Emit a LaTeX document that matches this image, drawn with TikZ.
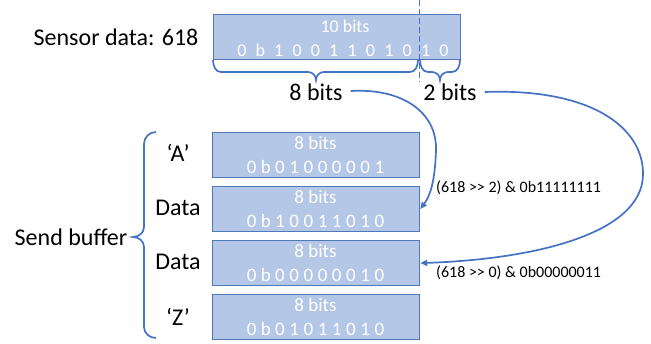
\documentclass[tikz,border=0pt]{standalone}
\usepackage{fontspec}
\setmainfont{Carlito}
\usetikzlibrary{arrows.meta,calc}
\definecolor{boxfill}{HTML}{B4C7E7}
\definecolor{boxline}{HTML}{5079BA}
\definecolor{accent}{HTML}{4472C4}
\begin{document}
\begin{tikzpicture}[x=1pt,y=-1pt,
  bitbox/.style={draw=boxline,line width=1.2pt,fill=boxfill,inner sep=0pt,anchor=north west},
  big/.style={font=\fontsize{24}{28}\selectfont,inner sep=0pt},
  lab/.style={font=\fontsize{16}{19}\selectfont,inner sep=0pt,anchor=west},
  wt/.style={text=white,inner sep=0pt,text height=0.7em,text depth=0pt},
  topt/.style={wt,font=\fontsize{18}{21}\selectfont},
  buft/.style={wt,font=\fontsize{19}{22}\selectfont},
  bluel/.style={draw=accent,line width=1.7pt},
  conn/.style={bluel,-{Triangle[length=7pt,width=6pt]}}
]
\useasboundingbox (0,0) rectangle (651,343);

% top box
\node[bitbox,minimum width=247pt,minimum height=45pt] (top) at (213,14) {};
\node[topt] (tb) at (345,28.5) {10 bits};
\foreach \c [count=\i from 0] in {0,b,1,0,0,1,1,0,1,0,1,0}
  \node[topt] (td\i) at ({242+18.36*\i},52.5) {\c};
\draw[accent,line width=1pt,dash pattern=on 6pt off 3pt] (419,0) -- (419,82);
\node[big] (sd) at (116,37) {Sensor data: 618};

% top braces
\draw[bluel] (213,60) to[out=-90,in=180] (221,72) -- (308,72) to[out=0,in=90] (316,80)
  to[out=90,in=180] (324,72) -- (410,72) to[out=0,in=-90] (418,60);
\draw[bluel] (420,60) to[out=-90,in=180] (428,72) -- (432,72) to[out=0,in=90] (440,80)
  to[out=90,in=180] (448,72) -- (452,72) to[out=0,in=-90] (460,60);
\node[big] (l8) at (316,92) {8 bits};
\node[big] (l2) at (450,92) {2 bits};

% buffer boxes
\foreach \k/\bits/\nm in {0/{0,b,0,1,0,0,0,0,0,1}/b1,1/{0,b,1,0,0,1,1,0,1,0}/b2,2/{0,b,0,0,0,0,0,0,1,0}/b3,3/{0,b,0,1,0,1,1,0,1,0}/b4}{
  \node[bitbox,minimum width=207pt,minimum height=45pt] (\nm) at (212,{132+54*\k}) {};
  \node[buft] (\nm t) at (315.5,{154.5+54*\k-8.5}) {8 bits};
  \foreach \c [count=\i from 0] in \bits
    \node[buft] (\nm d\i) at ({251.6+14.2*\i},{154.5+54*\k+15}) {\c};
}
\node[big] (qa) at (178,153) {‘A’};
\node[big] (da1) at (178,208) {Data};
\node[big] (da2) at (178,262) {Data};
\node[big] (qz) at (178,317) {‘Z’};

% left brace
\draw[bluel] (156,132) to[out=180,in=90] (144,144) -- (144,227) to[out=-90,in=0] (133,237)
  to[out=0,in=90] (144,247) -- (144,327) to[out=-90,in=180] (156,338);
\node[big] (sb) at (71,237) {Send buffer};

% connectors
\draw[conn] ($(l8.east)+(8,-1)$) .. controls (402,88) and (437,112) .. (436,150)
  .. controls (435,182) and (430,196) .. (b2.east);
\draw[conn] ($(l2.east)+(8,0)$) .. controls (592,88) and (644,128) .. (643,175)
  .. controls (642,232) and (540,259) .. (b3.east);

\node[lab] (f1) at (436,188) {(618 >\kern0pt> 2) \& 0b11111111};
\node[lab] (f2) at (436,273) {(618 >\kern0pt> 0) \& 0b00000011};
\end{tikzpicture}
\end{document}
